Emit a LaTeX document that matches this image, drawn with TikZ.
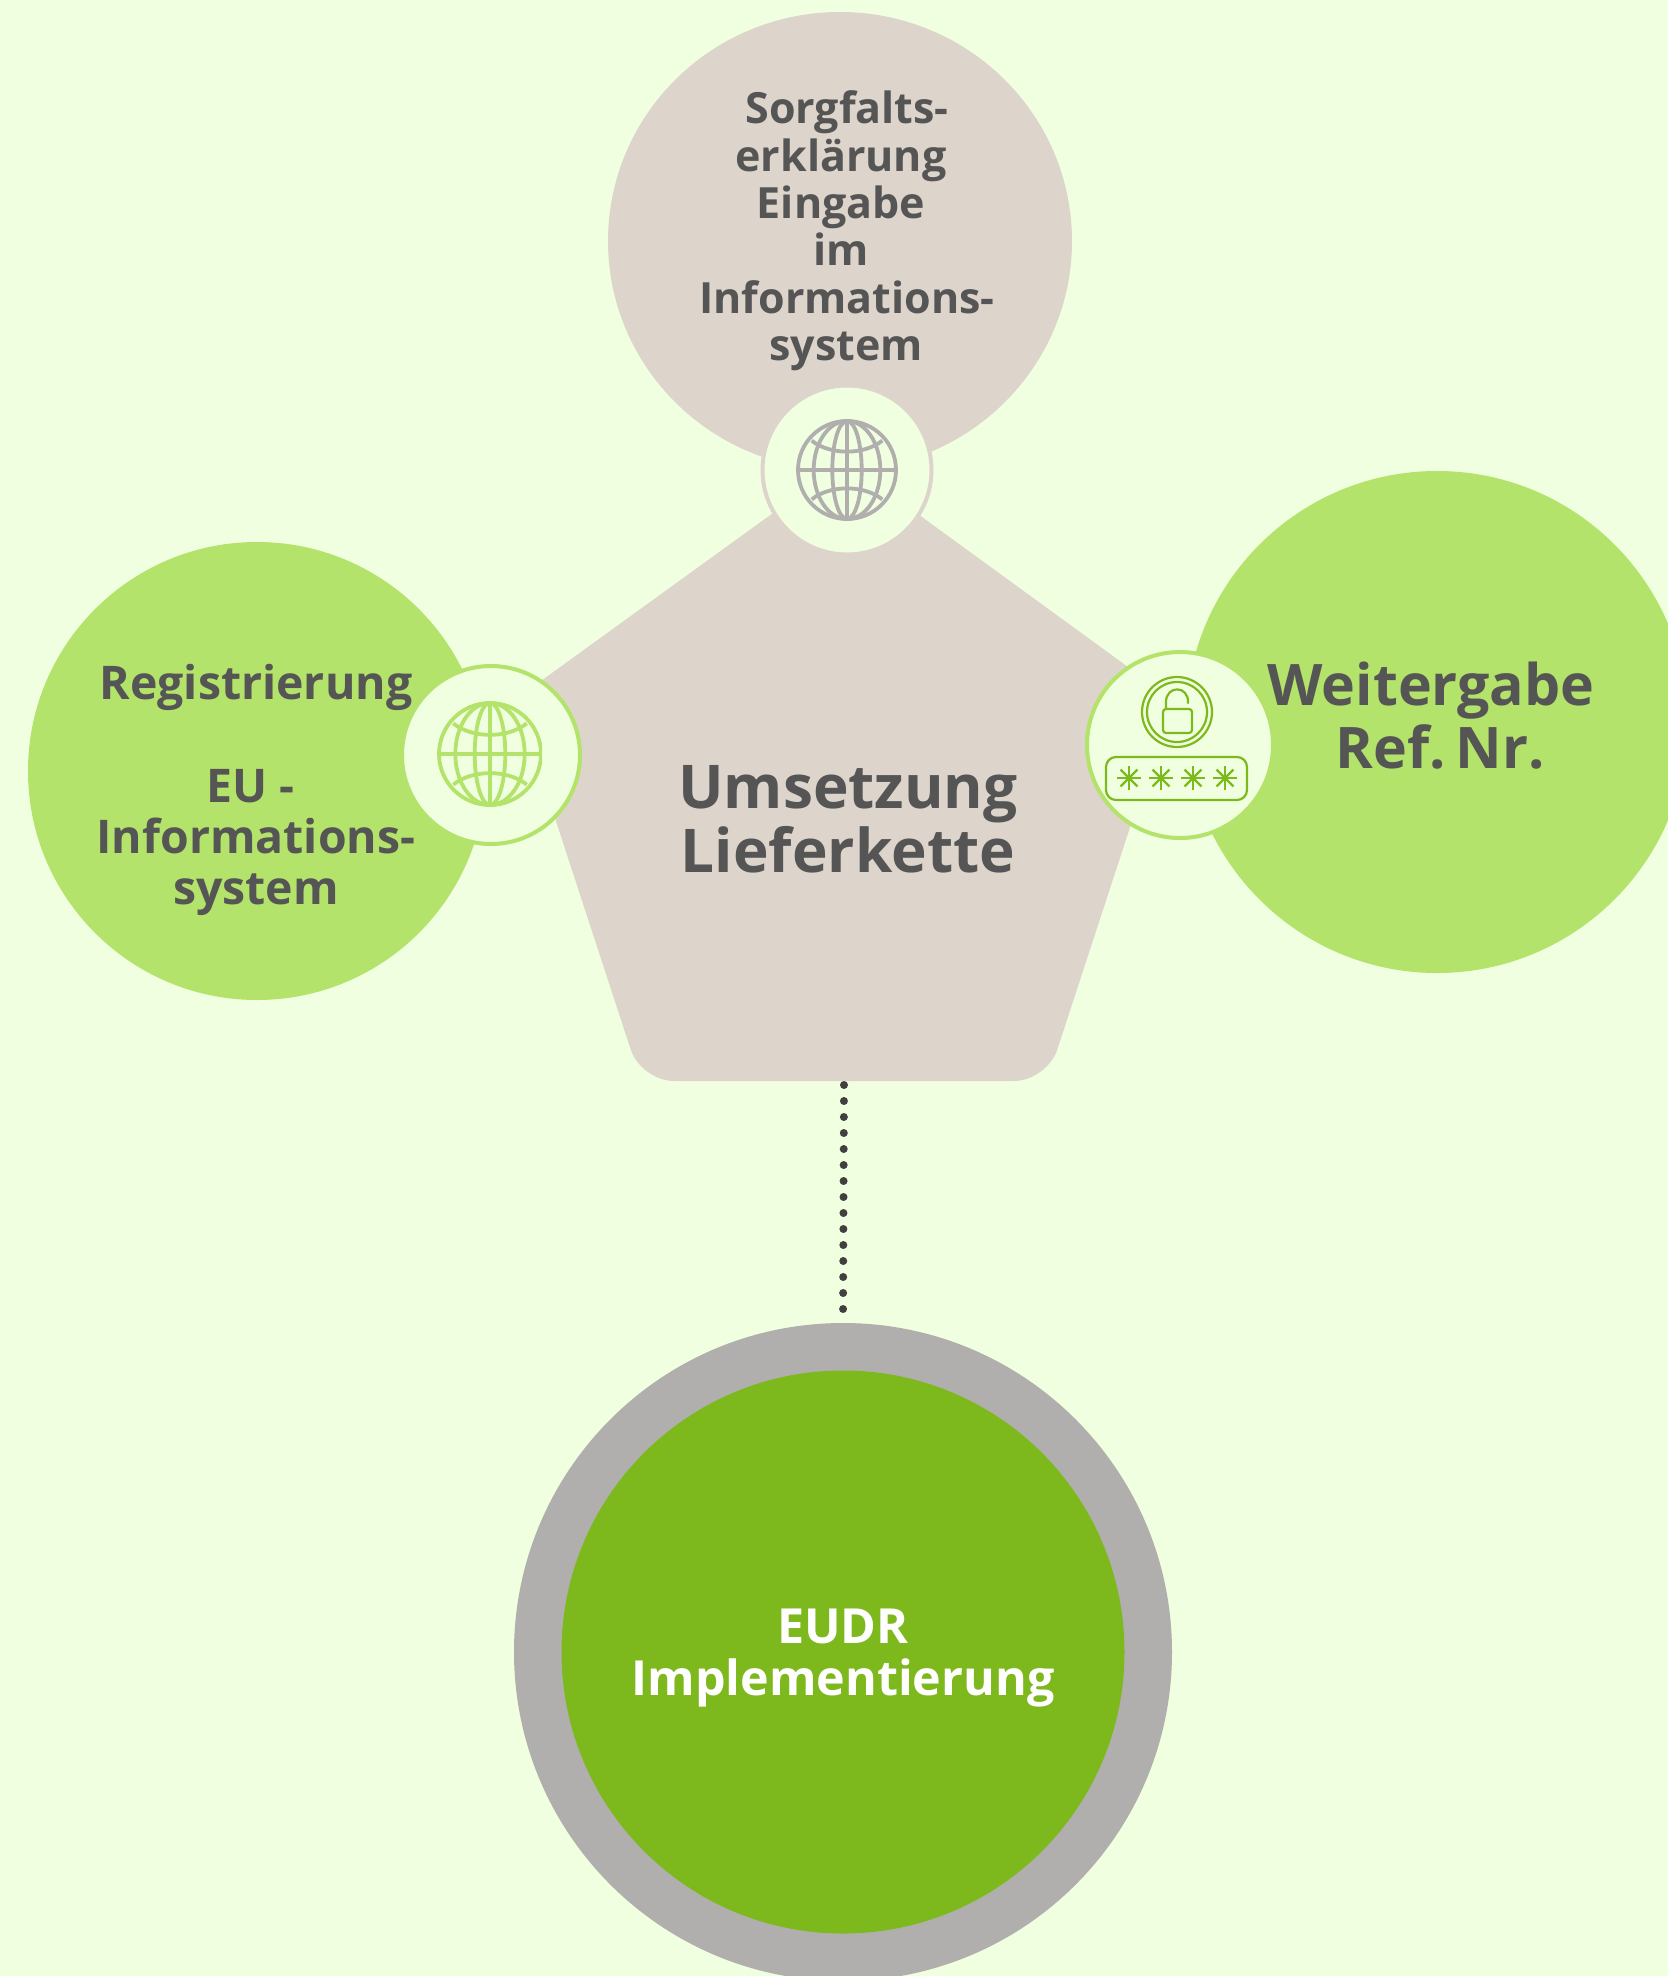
\documentclass[tikz,border=0pt]{standalone}
\usepackage{fontspec}
\usetikzlibrary{shapes.geometric}
\setmainfont{Open Sans}
\definecolor{bg}{HTML}{F0FFDF}
\definecolor{taupe}{HTML}{DDD5CB}
\definecolor{lgreen}{HTML}{B3E36A}
\definecolor{dgreen}{HTML}{7DB81C}
\definecolor{ringgrey}{HTML}{B0AFAD}
\definecolor{txt}{HTML}{555555}
\definecolor{dots}{HTML}{404040}
\newcommand{\myglobe}[4]{% cx, cy, r, colour
  \begin{scope}[shift={(#1,#2)},x=#3pt,y=-#3pt,draw=#4,line width=3.8pt]
    \draw (0,0) circle[radius=1];
    \draw (-1,0) -- (1,0);
    \draw (0,-1) -- (0,1);
    \draw (0,0) ellipse[x radius=.3,y radius=1];
    \draw (0,0) ellipse[x radius=.68,y radius=1];
    \draw (-.72,-.6) .. controls (-.35,-.3) and (.35,-.3) .. (.72,-.6);
    \draw (-.72,.6) .. controls (-.35,.3) and (.35,.3) .. (.72,.6);
  \end{scope}}
\newcommand{\mystar}[2]{% cx, cy
  \foreach \a in {0,45,90,135}
    \draw[dgreen,line width=2.2pt] (#1,#2) ++(\a:12pt) -- ++(\a+180:24pt);}
\tikzset{
  x=1pt,y=-1pt,
  disc/.style={circle,inner sep=0pt,outer sep=0pt,minimum size=#1},
  badge/.style={circle,inner sep=0pt,outer sep=0pt,fill=bg,line width=4pt,minimum size=#1},
  lab/.style={align=center,inner sep=0pt,text=txt},
  iconline/.style={dgreen,line width=2.2pt}
}
\begin{document}
\begin{tikzpicture}
\useasboundingbox (0,0) rectangle (1668,1976);
\fill[bg] (0,0) rectangle (1668,1976);
\clip (0,0) rectangle (1668,1976);

% satellites
\node[ellipse,inner sep=0pt,outer sep=0pt,minimum width=464pt,minimum height=458pt,fill=taupe] (top) at (840,241) {};
\node[disc=458pt,fill=lgreen] (left) at (257,771) {};
\node[disc=502pt,fill=lgreen] (right) at (1437,722) {};

% pentagon
\fill[taupe,rounded corners=33pt] (845,461) -- (1172,699) -- (1047,1081) -- (641,1081) -- (516,699) -- cycle;
\coordinate (pent) at (844,1085);

% bottom rings
\node[disc=658pt,fill=ringgrey] (ring) at (843,1652) {};
\node[disc=563pt,fill=dgreen] (core) at (843,1652) {};
\draw[dots,line width=8pt,line cap=round,dash pattern=on 0pt off 16pt,shorten >=13pt] (pent) -- (ring.north);

% badges
\node[badge=169pt,draw=taupe] (btop) at (847,470) {};
\node[badge=178pt,draw=lgreen] (bleft) at (491,755) {};
\node[badge=186pt,draw=lgreen] (bright) at (1180,745) {};

\myglobe{847}{470}{49}{ringgrey}
\begin{scope}
  \clip (430,700) rectangle (542,807);
  \myglobe{490}{754}{51}{lgreen}
\end{scope}

% lock icon
\draw[iconline] (1177,712) circle[radius=35];
\draw[iconline] (1177,712) circle[radius=30];
\draw[iconline,rounded corners=3pt] (1163,709) rectangle (1192,733);
\draw[iconline,line cap=round] (1166,709) -- (1166,702) .. controls (1166,685) and (1189,685) .. (1188,703);
\draw[iconline,rounded corners=10pt] (1106,757) rectangle (1247,800);
\mystar{1129}{778}
\mystar{1161}{778}
\mystar{1193}{778}
\mystar{1225}{778}

% labels
\node[lab,font=\bfseries\fontsize{43}{47.4}\selectfont] (ttop) at (841,231)
  {\hspace*{12pt}Sorgfalts-\\erklärung\\Eingabe\\im\\\hspace*{12pt}Informations-\\\hspace*{10pt}system};
\node[lab,font=\bfseries\fontsize{46.4}{51.3}\selectfont] (tleft) at (256,790)
  {Registrierung\\[0pt]\mbox{}\\\hspace*{-11pt}EU -\\Informations-\\system};
\node[lab,font=\bfseries\fontsize{57.3}{63}\selectfont] (tright) at (1435,716)
  {\hspace*{-8pt}Weitergabe\\\hspace*{10pt}Ref.\hspace{10pt}Nr.};
\node[lab,font=\bfseries\fontsize{60.3}{64}\selectfont] (tmid) at (848,819)
  {Umsetzung\\Lieferkette};
\node[lab,text=white,font=\bfseries\fontsize{48.4}{52}\selectfont] (tcore) at (843,1658.5)
  {EUDR\\Implementierung};
\end{tikzpicture}
\end{document}
